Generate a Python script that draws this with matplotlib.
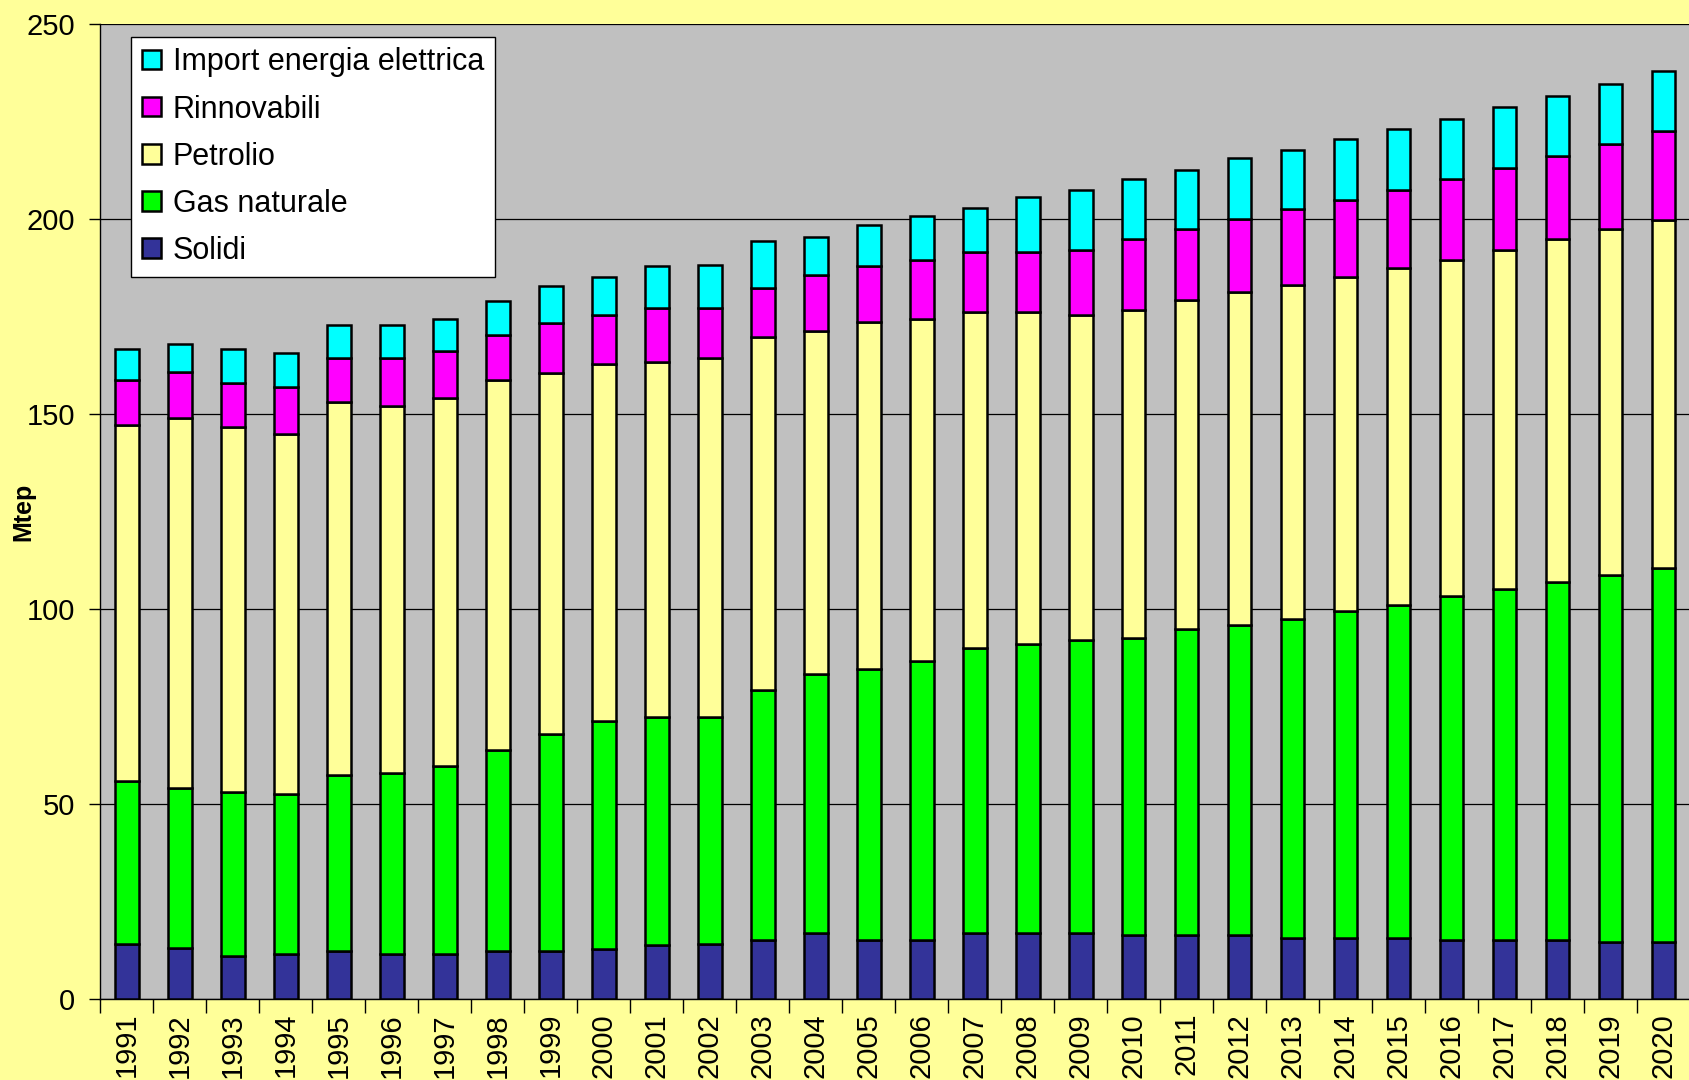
import numpy as np
import matplotlib
matplotlib.use('Agg')
import matplotlib.pyplot as plt

# Dati (Mtep)
anni = [str(a) for a in range(1991, 2021)]
solidi = [14.1, 13.0, 11.0, 11.6, 12.4, 11.6, 11.6, 12.2, 12.2, 12.7,
          13.8, 14.1, 15.2, 16.8, 15.2, 15.2, 16.8, 16.8, 16.8, 16.3,
          16.3, 16.3, 15.7, 15.7, 15.7, 15.2, 15.2, 15.2, 14.6, 14.6]
gas_naturale = [41.7, 41.1, 42.0, 40.9, 45.1, 46.4, 48.1, 51.6, 55.8, 58.6,
                58.6, 58.3, 64.1, 66.6, 69.3, 71.5, 73.3, 74.1, 75.2, 76.2,
                78.5, 79.6, 81.8, 83.7, 85.4, 88.1, 89.8, 91.7, 94.0, 95.9]
petrolio = [91.4, 94.8, 93.7, 92.3, 95.5, 93.9, 94.4, 94.8, 92.5, 91.4,
            90.9, 92.0, 90.3, 87.9, 89.0, 87.6, 85.9, 85.1, 83.4, 84.0,
            84.5, 85.3, 85.6, 85.7, 86.2, 86.2, 87.0, 87.9, 88.9, 89.2]
rinnovabili = [11.6, 11.9, 11.3, 12.1, 11.4, 12.5, 11.9, 11.6, 12.7, 12.7,
               13.8, 12.7, 12.7, 14.3, 14.3, 15.2, 15.4, 15.4, 16.6, 18.3,
               18.2, 18.8, 19.4, 19.6, 20.2, 20.7, 21.0, 21.2, 21.6, 22.7]
import_ee = [7.8, 7.2, 8.6, 8.6, 8.5, 8.5, 8.3, 8.8, 9.7, 9.7,
             10.7, 11.0, 11.9, 9.7, 10.5, 11.1, 11.4, 14.1, 15.5, 15.4,
             14.9, 15.5, 15.2, 15.7, 15.4, 15.5, 15.7, 15.5, 15.4, 15.4]

serie = [
    ('Solidi', solidi, '#333399'),
    ('Gas naturale', gas_naturale, '#00FF00'),
    ('Petrolio', petrolio, '#FFFF99'),
    ('Rinnovabili', rinnovabili, '#FF00FF'),
    ('Import energia elettrica', import_ee, '#00FFFF'),
]

plt.rcParams['font.family'] = ['Liberation Sans', 'DejaVu Sans']

fig = plt.figure(figsize=(16.9, 10.8), dpi=100, facecolor='#FFFF99')
ax = fig.add_axes([0.0593, 0.075, 0.9407, 0.903])
ax.set_facecolor('#C0C0C0')

x = np.arange(len(anni))
base = np.zeros(len(anni))
barre = []
for nome, valori, colore in serie:
    b = ax.bar(x, valori, 0.45, bottom=base, color=colore, edgecolor='black',
               linewidth=1.8, label=nome, zorder=3)
    barre.append(b)
    base = base + np.array(valori)

ax.set_ylim(0, 250)
ax.set_xlim(-0.5, 29.3)
ax.set_yticks(range(0, 251, 50))
ax.yaxis.grid(True, color='black', linewidth=0.9, zorder=1)
ax.tick_params(axis='y', labelsize=21, length=8, width=1, direction='out', pad=10)

# tacche ai confini delle categorie, etichette al centro
ax.set_xticks(np.arange(-0.5, 30, 1))
ax.set_xticklabels([])
ax.tick_params(axis='x', which='major', length=10, width=1, direction='out')
ax.set_xticks(x, minor=True)
ax.set_xticklabels(anni, minor=True, rotation=90, fontsize=21)
ax.tick_params(axis='x', which='minor', length=0, pad=10)

for lato in ['top', 'right']:
    ax.spines[lato].set_visible(False)
ax.spines['left'].set_linewidth(1)
ax.spines['bottom'].set_linewidth(1)

ax.set_ylabel('Mtep', fontsize=18, fontweight='bold')
ax.yaxis.set_label_coords(-0.041, 0.5)

leg = ax.legend(handles=barre[::-1], loc='upper left', bbox_to_anchor=(0.0778, 0.966),
                bbox_transform=fig.transFigure, fontsize=22, frameon=True,
                fancybox=False, edgecolor='black', facecolor='white', framealpha=1,
                handlelength=0.6, handleheight=0.6, handletextpad=0.4,
                labelspacing=0.56, borderpad=0.35, borderaxespad=0)
leg.get_frame().set_linewidth(1)

plt.savefig('out.png', dpi=100, facecolor=fig.get_facecolor())
